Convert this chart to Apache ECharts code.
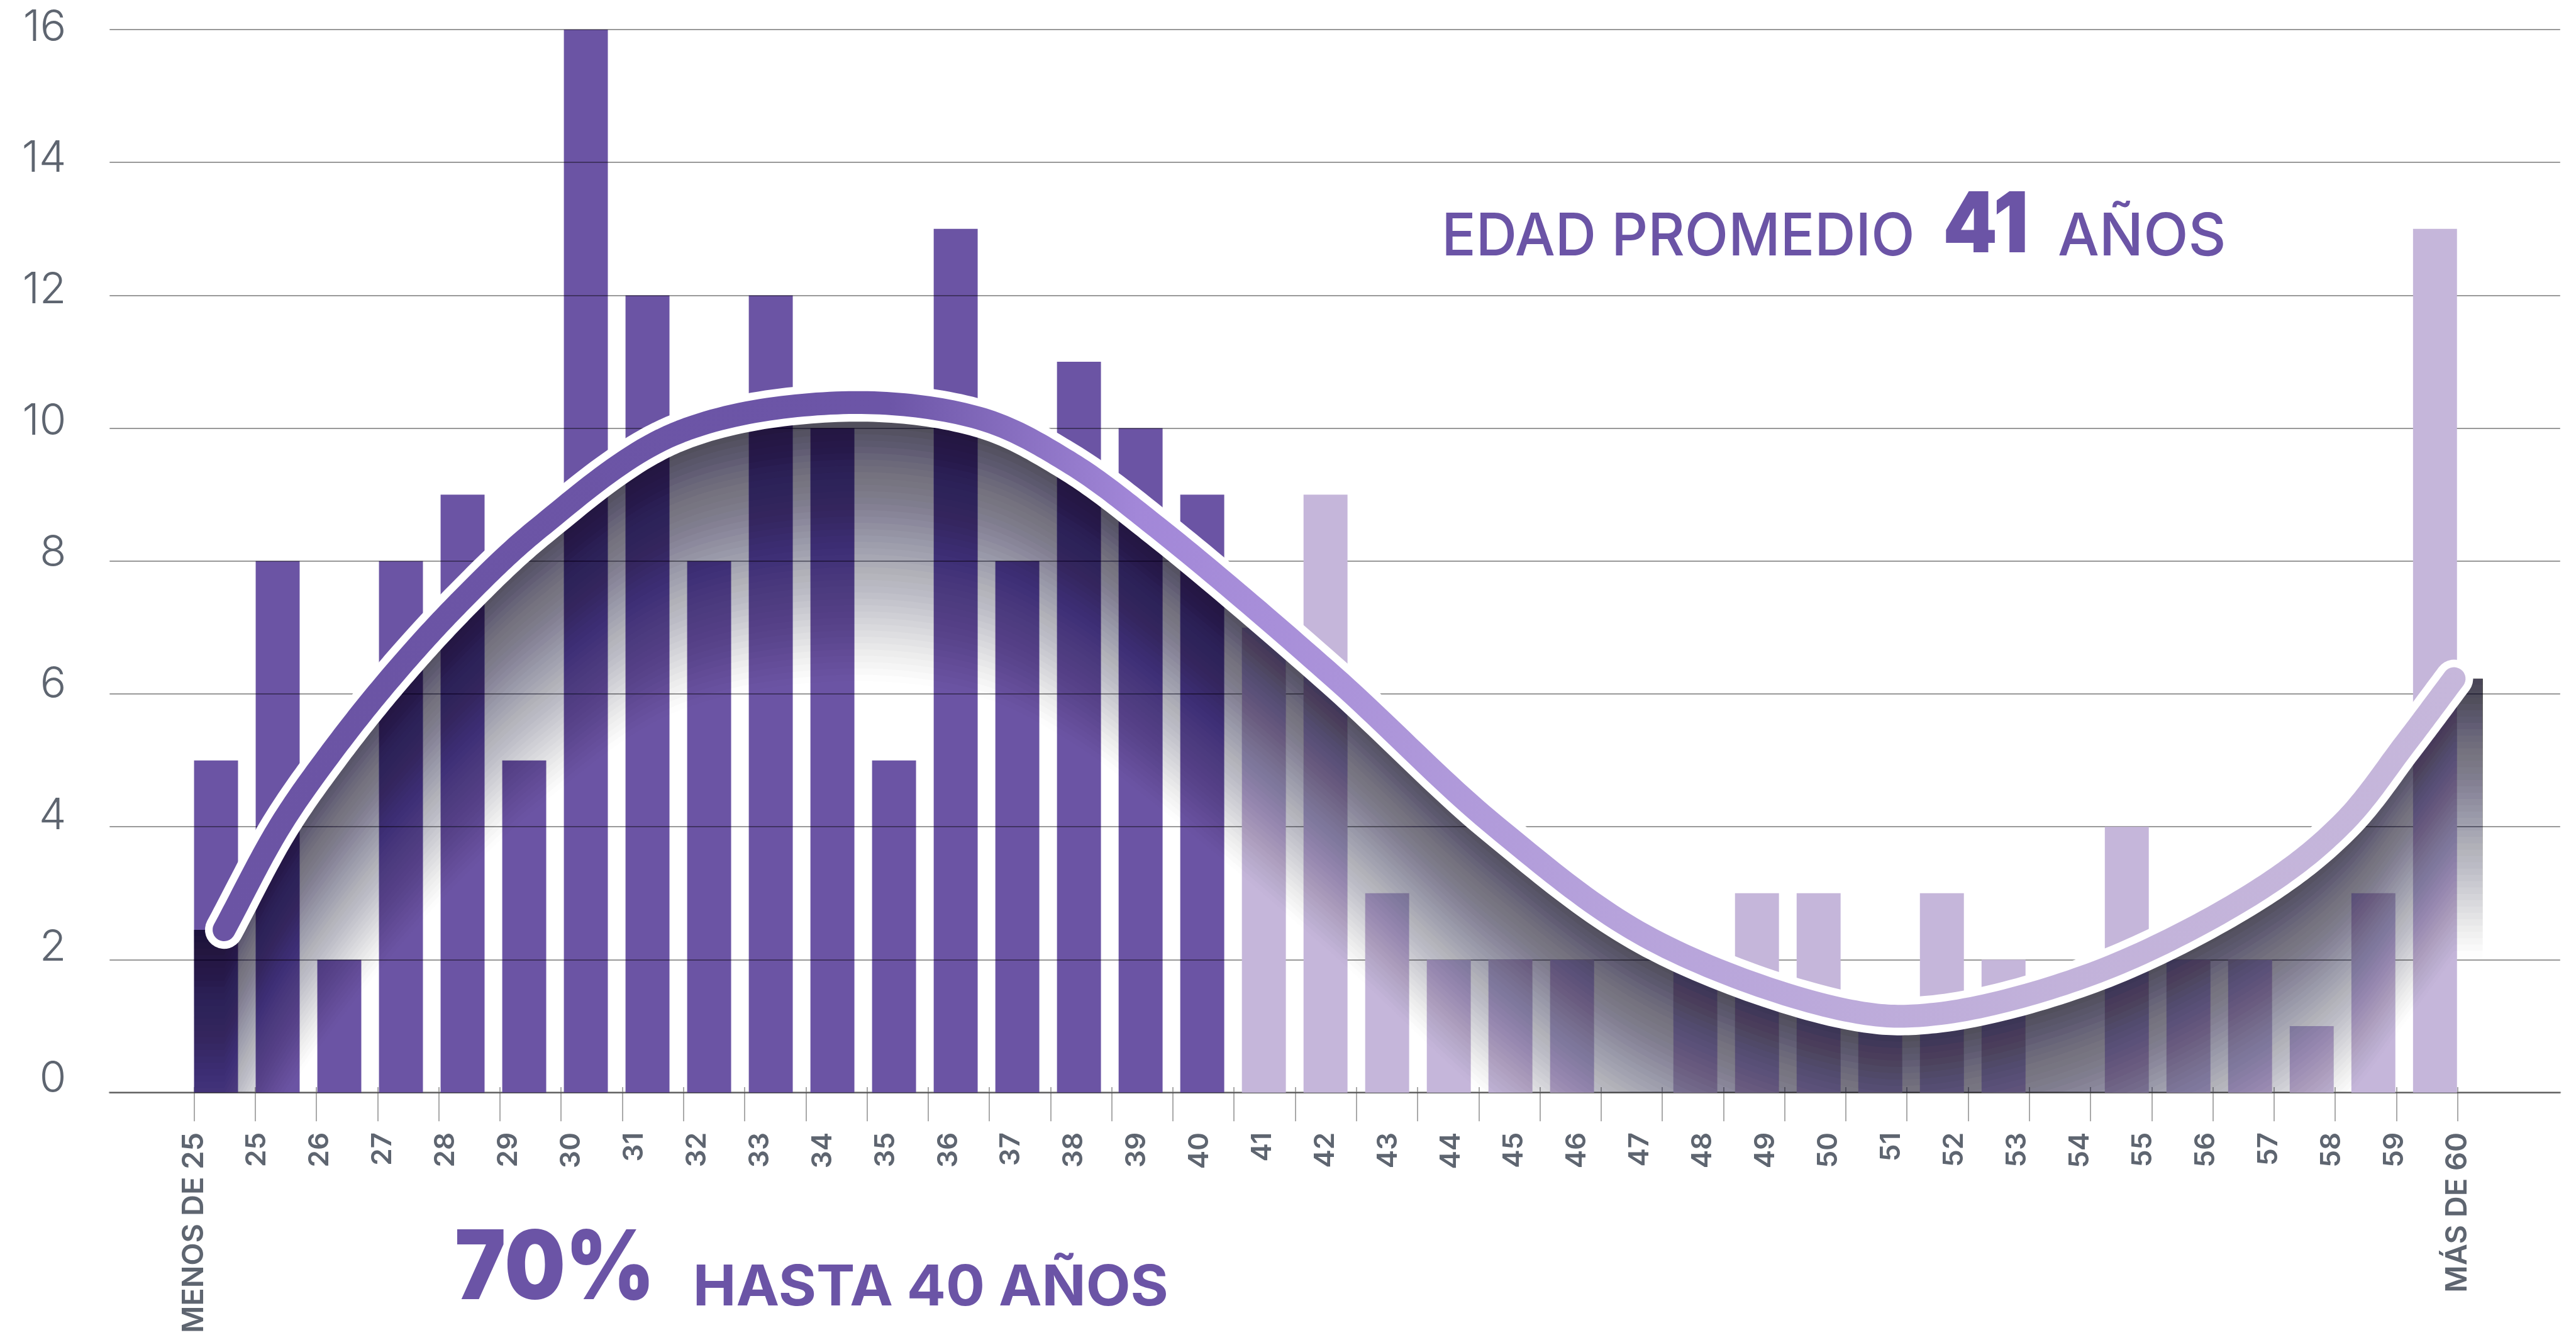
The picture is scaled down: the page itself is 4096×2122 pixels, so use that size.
<!DOCTYPE html>
<html>
<head>
<meta charset="utf-8">
<script src="https://cdn.jsdelivr.net/npm/echarts@6/dist/echarts.min.js"></script>
<style>
  html, body { margin: 0; padding: 0; background: #ffffff; }
  #chart { width: 4096px; height: 2122px; }
</style>
</head>
<body>
<div id="chart"></div>
<script>
// ---- data -------------------------------------------------------------
const ageLabels = ['MENOS DE 25', '25', '26', '27', '28', '29', '30', '31', '32', '33', '34',
  '35', '36', '37', '38', '39', '40', '41', '42', '43', '44', '45', '46', '47', '48', '49',
  '50', '51', '52', '53', '54', '55', '56', '57', '58', '59', 'MÁS DE 60'];
const counts = [5, 8, 2, 8, 9, 5, 16, 12, 8, 12, 10, 5, 13, 8, 11, 10, 9,
  7, 9, 3, 2, 2, 2, 0, 2, 3, 3, 1, 3, 2, 0, 4, 2, 2, 1, 3, 13];
const youngGroups = 17;            // groups up to 40 years
const yMin = 0, yMax = 16, yStep = 2;

// trend ribbon: position along the age groups (group index) and height
const trendX = [0.13, 1.03, 1.87, 2.84, 3.94, 5.24, 7.43, 10.07, 12.38, 13.82, 15.28,
  18.13, 20.77, 23.3, 26.45, 27.88, 30.53, 33.19, 34.52, 35.51, 36.31];
const trendY = [2.45, 4.0, 5.12, 6.25, 7.37, 8.5, 9.91, 10.38, 10.15, 9.5, 8.5,
  6.26, 4.0, 2.3, 1.24, 1.18, 1.82, 3.08, 4.07, 5.24, 6.23];

// ---- layout -----------------------------------------------------------
const W = 4096, H = 2122;
const S = W / 4394;
const u = v => v * S;
const plotTop = u(50.4), plotBottom = u(1863);
const frame = { left: u(187), right: W - u(4367) };
const tickBand = { left: u(331), right: W - u(4192) };
const markBand = { left: u(368.5), right: W - u(4153.5) };

const purple = '#6b54a4', lavender = '#c5b6da', inkPurple = '#6b54a6', axisGrey = '#5e6570';
const FONT = 'Inter, "Noto Sans", sans-serif';

const chart = echarts.init(document.getElementById('chart'), null, { renderer: 'canvas' });

function grid(band, top, bottom) {
  return { left: band.left, right: band.right, top: top, bottom: H - bottom, containLabel: false };
}

// centripetal Catmull-Rom through the trend points (pixel space)
function splineThrough(pts, steps) {
  const n = pts.length;
  const P = [[2 * pts[0][0] - pts[1][0], 2 * pts[0][1] - pts[1][1]]]
    .concat(pts, [[2 * pts[n - 1][0] - pts[n - 2][0], 2 * pts[n - 1][1] - pts[n - 2][1]]]);
  const dist = (a, b) => Math.max(Math.sqrt(Math.hypot(a[0] - b[0], a[1] - b[1])), 1e-4);
  const mix = (a, b, ta, tb, t) => [
    a[0] * (tb - t) / (tb - ta) + b[0] * (t - ta) / (tb - ta),
    a[1] * (tb - t) / (tb - ta) + b[1] * (t - ta) / (tb - ta)
  ];
  const out = [];
  for (let i = 1; i < P.length - 2; i++) {
    const p0 = P[i - 1], p1 = P[i], p2 = P[i + 1], p3 = P[i + 2];
    const t0 = 0, t1 = t0 + dist(p0, p1), t2 = t1 + dist(p1, p2), t3 = t2 + dist(p2, p3);
    for (let s = (i === 1 ? 0 : 1); s <= steps; s++) {
      const t = t1 + (t2 - t1) * s / steps;
      const a1 = mix(p0, p1, t0, t1, t), a2 = mix(p1, p2, t1, t2, t), a3 = mix(p2, p3, t2, t3, t);
      const b1 = mix(a1, a2, t0, t2, t), b2 = mix(a2, a3, t1, t3, t);
      out.push(mix(b1, b2, t1, t2, t));
    }
  }
  return out;
}

const ribbonGradient = new echarts.graphic.LinearGradient(0, 0, 1, 0, [
  { offset: 0, color: '#6b54a4' },
  { offset: 0.30, color: '#6c55a7' },
  { offset: 0.41, color: '#a287d8' },
  { offset: 0.62, color: '#b6a2db' },
  { offset: 0.82, color: '#c2b2da' },
  { offset: 1, color: '#c6b7db' }
]);

// soft shade under the curve (stacked translucent layers, darkest at the curve),
// then the white-edged ribbon on top
function renderTrend(params, api) {
  const pts = trendX.map((x, i) => api.coord([x, trendY[i]]));
  const base = api.coord([0, 0])[1];
  const curve = splineThrough(pts, 24);
  const first = curve[0], last = curve[curve.length - 1];
  const top = [[first[0] - u(51), first[1]]].concat(curve, [[last[0] + u(49), last[1]]]);
  const K = 44, depth = u(475), a0 = 0.72;
  const target = k => a0 * (1 - (k - 0.5) / K);
  const children = [];
  for (let k = 1; k <= K; k++) {
    const tk = target(k), tn = k < K ? target(k + 1) : 0;
    const alpha = 1 - (1 - tk) / (1 - tn);
    const d = depth * k / K;
    const bottom = top.map(p => [p[0], Math.min(p[1] + d, base)]).reverse();
    children.push({
      type: 'polygon', silent: true,
      shape: { points: top.concat(bottom) },
      style: { fill: 'rgba(20,16,28,' + alpha.toFixed(4) + ')' }
    });
  }
  children.push({
    type: 'polyline', silent: true, shape: { points: curve },
    style: { fill: null, stroke: '#ffffff', lineWidth: u(65), lineCap: 'round', lineJoin: 'round' }
  });
  children.push({
    type: 'polyline', silent: true, shape: { points: curve },
    style: { fill: null, stroke: ribbonGradient, lineWidth: u(39), lineCap: 'round', lineJoin: 'round' }
  });
  return { type: 'group', children };
}

// headline text fitted to its measured width
const measureCtx = document.createElement('canvas').getContext('2d');
function headline(text, weight, size, left, capCenter, width) {
  const font = weight + ' ' + size + 'px ' + FONT;
  measureCtx.font = font;
  const sx = width / measureCtx.measureText(text).width;
  return {
    type: 'text', x: left, y: capCenter, scaleX: sx, z: 20, silent: true,
    style: {
      text, font, fill: inkPurple,
      align: 'left', verticalAlign: 'middle', textAlign: 'left', textVerticalAlign: 'middle'
    }
  };
}

const hiddenY = gi => ({ type: 'value', gridIndex: gi, min: yMin, max: yMax, interval: yStep, show: false });

const option = {
  animation: false,
  backgroundColor: '#ffffff',
  textStyle: { fontFamily: FONT },
  grid: [
    grid(frame, plotTop, plotBottom),
    grid(tickBand, plotTop, plotBottom),
    grid(markBand, plotTop, plotBottom),
    grid(frame, u(47), u(1840))          // value labels of the vertical axis
  ],
  xAxis: [
    { // frame baseline
      type: 'value', gridIndex: 0, position: 'bottom', min: 0, max: 1,
      axisLine: { show: true, lineStyle: { color: 'rgba(0,0,0,0.36)', width: 3 } },
      axisTick: { show: false }, axisLabel: { show: false }, splitLine: { show: false }
    },
    { // tick marks between age groups
      type: 'category', gridIndex: 1, position: 'bottom', data: ageLabels, boundaryGap: true,
      axisLine: { show: false },
      axisTick: { show: true, interval: 0, length: u(58), lineStyle: { color: '#8d8d8d', width: 1.5 } },
      axisLabel: { show: false }, splitLine: { show: false }
    },
    { // age labels
      type: 'category', gridIndex: 1, position: 'bottom', data: ageLabels, boundaryGap: false,
      axisLine: { show: false }, axisTick: { show: false }, splitLine: { show: false },
      axisLabel: {
        show: true, interval: 0, rotate: 90, margin: u(77),
        fontSize: 44, fontWeight: 600, color: axisGrey, fontFamily: FONT,
        formatter: v => (/[A-Z]/.test(v) ? '{w|' + v + '}' : v),
        rich: { w: { fontSize: 47, fontWeight: 600, color: axisGrey, fontFamily: FONT } }
      }
    },
    { type: 'category', gridIndex: 2, position: 'bottom', data: ageLabels, boundaryGap: false, show: false },
    { type: 'value', gridIndex: 2, position: 'bottom', min: 0, max: ageLabels.length - 1, show: false },
    { type: 'value', gridIndex: 3, position: 'bottom', min: 0, max: 1, show: false }
  ],
  yAxis: [
    {
      type: 'value', gridIndex: 0, min: yMin, max: yMax, interval: yStep, z: 3,
      axisLine: { show: false }, axisTick: { show: false }, axisLabel: { show: false },
      splitLine: { show: true, lineStyle: { color: 'rgba(0,0,0,0.40)', width: 2 } }
    },
    hiddenY(1),
    hiddenY(2),
    {
      type: 'value', gridIndex: 3, min: yMin, max: yMax, interval: yStep,
      axisLine: { show: false }, axisTick: { show: false }, splitLine: { show: false },
      axisLabel: { show: true, margin: u(74), fontSize: 69, fontWeight: 300, color: axisGrey, fontFamily: FONT }
    }
  ],
  series: [
    {
      name: 'hasta 40', type: 'bar', xAxisIndex: 3, yAxisIndex: 2, z: 2, clip: false,
      barWidth: u(75), barGap: '-100%',
      itemStyle: { color: purple },
      data: counts.map((v, i) => (i < youngGroups ? v : '-'))
    },
    {
      name: 'desde 41', type: 'bar', xAxisIndex: 3, yAxisIndex: 2, z: 4, clip: false,
      barWidth: u(75), barGap: '-100%',
      itemStyle: { color: lavender },
      data: counts.map((v, i) => (i >= youngGroups ? v : '-'))
    },
    {
      name: 'tendencia', type: 'custom', xAxisIndex: 4, yAxisIndex: 2, z: 5, clip: false,
      silent: true, renderItem: renderTrend, data: [[0, 0]]
    }
  ],
  graphic: [
    headline('EDAD PROMEDIO', 500, 94, u(2459), u(405), u(807)),
    headline('41', 900, 134, u(3314), u(387), u(146)),
    headline('AÑOS', 500, 94, u(3510), u(405), u(287)),
    headline('70%', 900, 152, u(776), u(2166), u(341)),
    headline('HASTA 40 AÑOS', 700, 89, u(1182), u(2197), u(811))
  ]
};

chart.setOption(option);
</script>
</body>
</html>
